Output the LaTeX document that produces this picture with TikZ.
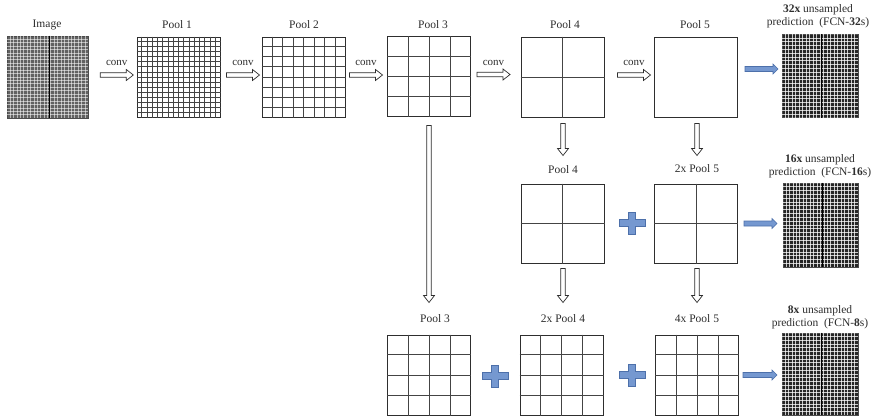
\documentclass[tikz,border=0pt]{standalone}
\usepackage{fontspec}
\setmainfont{Liberation Serif}
\usetikzlibrary{calc}
\definecolor{ink}{HTML}{2E2E2E}
\definecolor{gridc}{HTML}{444444}
\definecolor{bluefill}{HTML}{7598D0}
\definecolor{blueedge}{HTML}{4D70AA}
\newcommand\cellgrid[2]{%
  \pgfmathtruncatemacro\cgN{#2-1}%
  \foreach \k in {1,...,\cgN}{%
    \draw[gridline] ($(#1.north west)!\k/#2!(#1.north east)$) -- ($(#1.south west)!\k/#2!(#1.south east)$);
    \draw[gridline] ($(#1.north west)!\k/#2!(#1.south west)$) -- ($(#1.north east)!\k/#2!(#1.south east)$);
  }}
\newcommand\densetex[4]{% name, divisions, line width, opacity
  \pgfmathtruncatemacro\cgN{#2-1}%
  \foreach \k in {1,...,\cgN}{%
    \draw[white, line width=#3, opacity=#4] ($(#1.north west)!\k/#2!(#1.north east)$) -- ($(#1.south west)!\k/#2!(#1.south east)$);
    \draw[white, line width=#3, opacity=#4] ($(#1.north west)!\k/#2!(#1.south west)$) -- ($(#1.north east)!\k/#2!(#1.south east)$);
  }%
  \draw[black, line width=0.8pt] ($(#1.north west)!0.52!(#1.north east)$) -- ($(#1.south west)!0.52!(#1.south east)$);
}
% horizontal block arrow: style, tail point, length, shaft half, head half, head length
\newcommand\blockR[6]{%
  \draw[#1] (#2) ++(0,-#4) -- ++(#3-#6,0) -- ++(0,#4-#5) -- ++(#6,#5) -- ++(-#6,#5) -- ++(0,#4-#5) -- ++(-#3+#6,0) -- cycle;}
% downward block arrow
\newcommand\blockD[6]{%
  \draw[#1] (#2) ++(-#4,0) -- ++(0,#3-#6) -- ++(#4-#5,0) -- ++(#5,#6) -- ++(#5,-#6) -- ++(#4-#5,0) -- ++(0,-#3+#6) -- cycle;}
\tikzset{
  x=1pt, y=-1pt,
  box/.style={draw=ink, line width=1pt, minimum width=83pt, minimum height=80pt, inner sep=0pt},
  predbox/.style={draw=black!70, line width=0.6pt, minimum width=76pt, minimum height=83pt, inner sep=0pt},
  gridline/.style={draw=gridc, line width=0.8pt},
  lab/.style={font=\fontsize{11.5}{13.2}\selectfont, text=ink, inner sep=1pt, align=center},
  convlab/.style={font=\fontsize{11}{12}\selectfont, text=ink, inner sep=1pt},
  hol/.style={draw=ink, fill=white, line width=0.7pt, line join=miter},
  bluearr/.style={draw=blueedge, fill=bluefill, line width=0.6pt},
  pics/plusmark/.style={code={
    \draw[fill=bluefill, draw=blueedge, line width=0.6pt]
      (-3.6,-11)--(3.6,-11)--(3.6,-3.6)--(13,-3.6)--(13,3.6)--(3.6,3.6)--(3.6,11)--(-3.6,11)
      --(-3.6,3.6)--(-13,3.6)--(-13,-3.6)--(-3.6,-3.6)--cycle;}}
}
\begin{document}
\begin{tikzpicture}
\useasboundingbox[fill=white] (0,0) rectangle (880,418);

% ---- row 1 ----
\node[predbox, fill=black!62, minimum width=81pt, minimum height=82pt] (img) at (47.5,77) {};
\densetex{img}{24}{0.8pt}{0.55}
\node[box] (p1) at (178.5,77) {};
\cellgrid{p1}{16}
\node[box] (p2) at (303.5,77) {};
\cellgrid{p2}{8}
\node[box] (p3) at (429,76.5) {};
\cellgrid{p3}{4}
\node[box] (p4) at (562.5,77) {};
\cellgrid{p4}{2}
\node[box] (p5) at (696,77) {};
\node[predbox, fill=black!85] (pr32) at (820,76) {};
\densetex{pr32}{22}{0.8pt}{0.75}

\node[lab] (limg) at (47,25) {Image};
\node[lab] (lp1) at (177,25) {Pool 1};
\node[lab] (lp2) at (304,25) {Pool 2};
\node[lab] (lp3) at (433,25) {Pool 3};
\node[lab] (lp4) at (565,25) {Pool 4};
\node[lab] (lp5) at (695,25) {Pool 5};
\node[lab] (lpr32) at (818,16) {\textbf{32x} unsampled\\prediction\ \ (FCN-\textbf{32}s)};

\coordinate (t1) at ($(img.east)+(12,-2)$);
\coordinate (t2) at ($(p1.east)+(6,-2)$);
\coordinate (t3) at ($(p2.east)+(4,-2)$);
\coordinate (t4) at ($(p3.east)+(6,-2)$);
\coordinate (t5) at ($(p4.east)+(13,-2)$);
\foreach \t in {t1,t2,t3,t4,t5}{%
  \blockR{hol}{\t}{33}{2.2}{5.5}{7}
  \node[convlab] at ($(\t)+(16.5,-12)$) {conv};}
\blockR{bluearr}{$(p5.east)+(7,-8)$}{33}{2.5}{5}{5}

% ---- row 2 ----
\node[lab] (l2p4) at (563,170) {Pool 4};
\node[lab] (l2p5) at (697,169) {2x Pool 5};
\node[box, minimum height=79pt] (r2p4) at (562.5,223.5) {};
\cellgrid{r2p4}{2}
\node[box, minimum height=79pt] (r2p5) at (696,223.5) {};
\cellgrid{r2p5}{2}
\node[predbox, fill=black!85, minimum width=75pt, minimum height=84pt] (pr16) at (820.5,225) {};
\densetex{pr16}{22}{0.8pt}{0.75}
\node[lab] (lpr16) at (820,166) {\textbf{16x} unsampled\\prediction\ \ (FCN-\textbf{16}s)};
\pic at (632,223) {plusmark};
\blockR{bluearr}{$(r2p5.east)+(6,0)$}{33}{2.5}{5}{5}

\blockD{hol}{$(p4.south)+(0.5,6)$}{32}{2.2}{5.5}{7}
\blockD{hol}{$(p5.south)+(1,6)$}{32}{2.2}{5.5}{7}

% ---- row 3 ----
\node[lab] (l3p3) at (435,319) {Pool 3};
\node[lab] (l3p4) at (563,319) {2x Pool 4};
\node[lab] (l3p5) at (697,319) {4x Pool 5};
\node[box] (r3p3) at (429,375) {};
\cellgrid{r3p3}{4}
\node[box] (r3p4) at (561.5,375) {};
\cellgrid{r3p4}{4}
\node[box] (r3p5) at (697,375) {};
\cellgrid{r3p5}{4}
\node[predbox, fill=black!85, minimum height=82pt] (pr8) at (820,374) {};
\densetex{pr8}{22}{0.8pt}{0.75}
\node[lab] (lpr8) at (820,317.5) {\textbf{8x} unsampled\\prediction\ \ (FCN-\textbf{8}s)};
\pic at (495,376) {plusmark};
\pic at (632,375) {plusmark};
\blockR{bluearr}{$(r3p5.east)+(4,0)$}{34}{2.5}{5}{5}

\blockD{hol}{$(r2p4.south)+(0.5,5)$}{34}{2.2}{5.5}{7}
\blockD{hol}{$(r2p5.south)+(1,5)$}{34}{2.2}{5.5}{7}
\blockD{hol}{$(p3.south)+(0,8.5)$}{177}{2.2}{5.5}{7}
\end{tikzpicture}
\end{document}
